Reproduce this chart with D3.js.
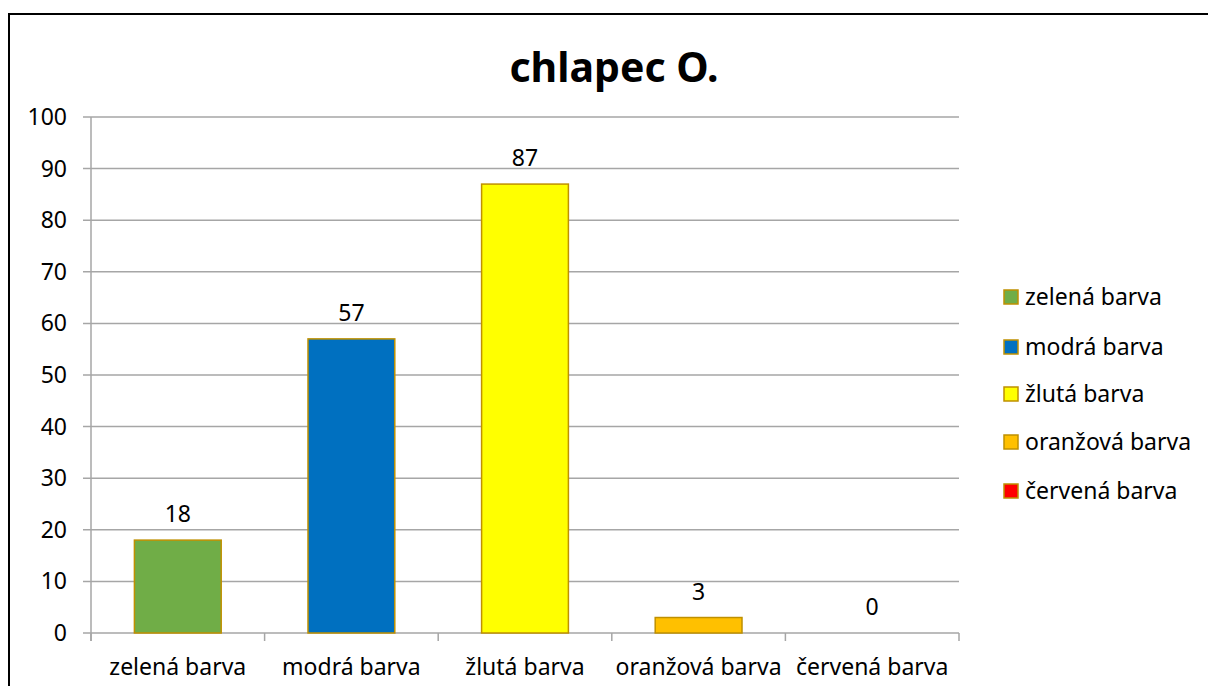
<!DOCTYPE html>
<html><head><meta charset="utf-8">
<script src="https://cdn.jsdelivr.net/npm/d3@7"></script>
<style>body{margin:0;background:#fff}svg{display:block}text{font-family:"Noto Sans","Open Sans",sans-serif}</style>
</head><body>
<svg id="c" width="1208" height="686"></svg>
<script>
const title = "chlapec O.";
const categories = ["zelená barva","modrá barva","žlutá barva","oranžová barva","červená barva"];
const values = [18,57,87,3,0];
const colors = ["#70AD47","#0070C0","#FFFF00","#FFC000","#FF0000"];
const yTicks = [0,10,20,30,40,50,60,70,80,90,100];

(function(){
const svg = d3.select("#c");
svg.append("rect").attr("x",9).attr("y",14).attr("width",1220).attr("height",700)
  .attr("fill","#fff").attr("stroke","#000").attr("stroke-width",2);

const pL=91, pR=959, pT=117, pB=633;
const x = d3.scaleBand().domain(categories).range([pL,pR]).paddingInner(0.5).paddingOuter(0.25);
const xb = d3.scaleBand().domain(categories).range([pL,pR]);
const y = d3.scaleLinear().domain([0,100]).range([pB,pT]);

svg.append("text").attr("x",614).attr("y",82).attr("text-anchor","middle")
  .attr("font-size",41).attr("font-weight","bold").text(title);

const g = svg.append("g");
g.selectAll("line.grid").data(yTicks).join("line").attr("class","grid")
  .attr("x1",pL-8).attr("x2",pR).attr("y1",d=>y(d)).attr("y2",d=>y(d))
  .attr("stroke","#a6a6a6").attr("stroke-width",1.5);
g.append("line").attr("x1",pL).attr("x2",pL).attr("y1",pT).attr("y2",pB+8)
  .attr("stroke","#a6a6a6").attr("stroke-width",1.5);
const xt = categories.map(c=>xb(c)).concat([pR]);
g.selectAll("line.xt").data(xt).join("line").attr("class","xt")
  .attr("x1",d=>d).attr("x2",d=>d).attr("y1",pB).attr("y2",pB+8)
  .attr("stroke","#a6a6a6").attr("stroke-width",1.5);
g.selectAll("text.yl").data(yTicks).join("text").attr("class","yl")
  .attr("x",pL-24).attr("y",d=>y(d)+8).attr("text-anchor","end")
  .attr("font-size",23).attr("fill","#000").text(d=>d);
g.selectAll("text.xl").data(categories).join("text").attr("class","xl")
  .attr("x",d=>xb(d)+xb.bandwidth()/2).attr("y",pB+42).attr("text-anchor","middle")
  .attr("font-size",23).attr("fill","#000").text(d=>d);
g.selectAll("rect.bar").data(values).join("rect").attr("class","bar")
  .attr("x",(d,i)=>x(categories[i])).attr("width",x.bandwidth())
  .attr("y",d=>y(d)).attr("height",d=>pB-y(d))
  .attr("fill",(d,i)=>colors[i]).attr("stroke",d=>d>0?"#BF9000":"none").attr("stroke-width",1.5);
g.selectAll("text.vl").data(values).join("text").attr("class","vl")
  .attr("x",(d,i)=>x(categories[i])+x.bandwidth()/2).attr("y",d=>y(d)-18)
  .attr("text-anchor","middle").attr("font-size",23).attr("fill","#000").text(d=>d);
const lg = svg.append("g");
const ly = [297,347,394,442,491];
categories.forEach((c,i)=>{
  lg.append("rect").attr("x",1004).attr("y",ly[i]-7).attr("width",14).attr("height",14)
    .attr("fill",colors[i]).attr("stroke","#BF9000").attr("stroke-width",1.5);
  lg.append("text").attr("x",1025).attr("y",ly[i]+8).attr("font-size",23).attr("fill","#000").text(c);
});
})();
</script>
</body></html>
